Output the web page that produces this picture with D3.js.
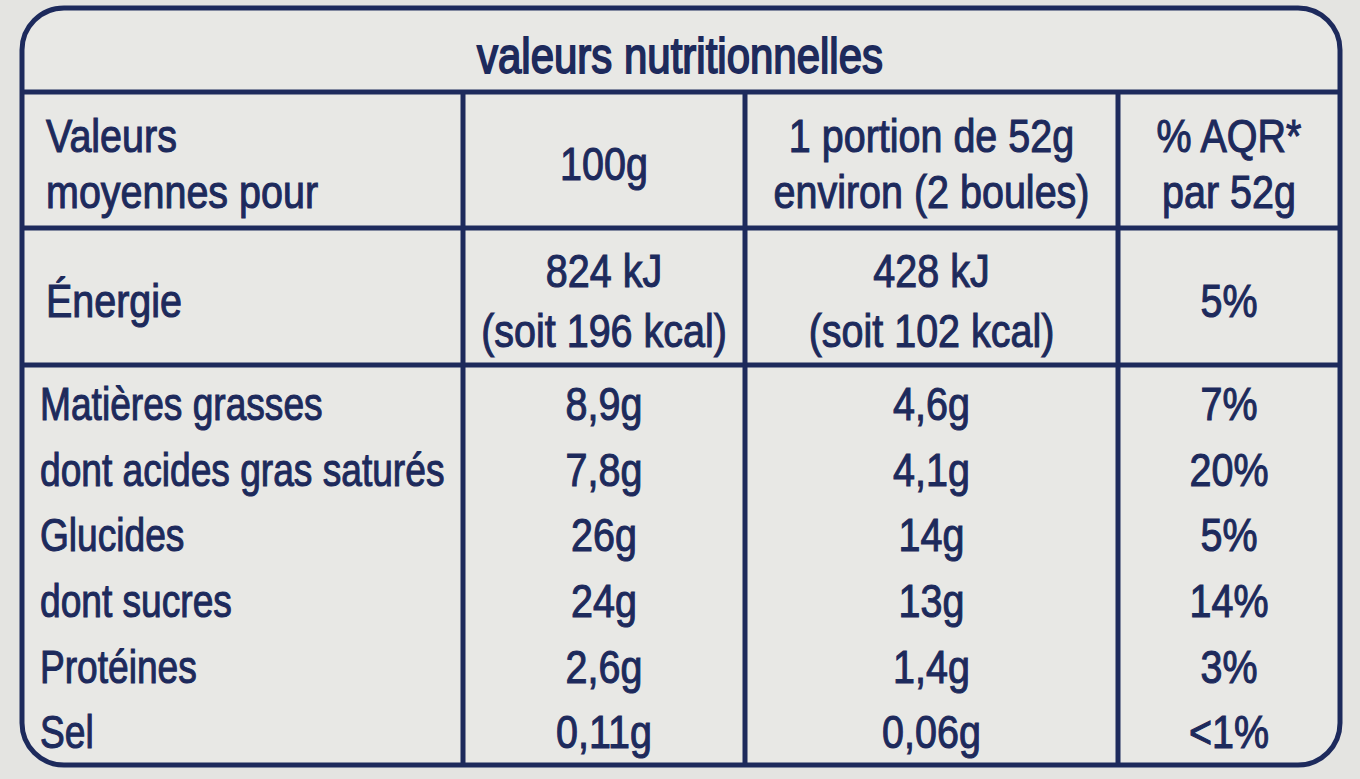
<!DOCTYPE html>
<html><head><meta charset="utf-8">
<script src="https://cdn.jsdelivr.net/npm/d3@7"></script>
<style>
body{margin:0;background:#e4e4e1;}
svg{display:block;}
text{font-family:"Liberation Sans","Arial",sans-serif;fill:#1d2a5c;}
</style></head>
<body><svg></svg>
<script>
const title = 'valeurs nutritionnelles';
const headers = [['Valeurs', 'moyennes pour'], ['100g'], ['1 portion de 52g', 'environ (2 boules)'], ['% AQR*', 'par 52g']];
const energy = [['Énergie'], ['824 kJ', '(soit 196 kcal)'], ['428 kJ', '(soit 102 kcal)'], ['5%']];
const nutrients = ['Matières grasses', 'dont acides gras saturés', 'Glucides', 'dont sucres', 'Protéines', 'Sel'];
const per100 = ['8,9g', '7,8g', '26g', '24g', '2,6g', '0,11g'];
const perPortion = ['4,6g', '4,1g', '14g', '13g', '1,4g', '0,06g'];
const aqr = ['7%', '20%', '5%', '14%', '3%', '<1%'];

const width = 1360, height = 779;
const svg = d3.select('svg').attr('width', width).attr('height', height);
const ink = '#1d2a5c';

const colEdges = [22, 463, 745, 1118, 1340];
const rowEdges = [8, 92, 228, 365, 765];
const colCenter = i => (colEdges[i] + colEdges[i + 1]) / 2;

svg.append('rect').attr('x', 22).attr('y', 8).attr('width', 1318).attr('height', 757)
	.attr('rx', 42).attr('fill', '#e8e8e5').attr('stroke', ink).attr('stroke-width', 5);

svg.selectAll('line.h').data(rowEdges.slice(1, 4)).enter().append('line')
	.attr('x1', 22).attr('x2', 1340).attr('y1', d => d).attr('y2', d => d)
	.attr('stroke', ink).attr('stroke-width', 5);
svg.selectAll('line.v').data(colEdges.slice(1, 4)).enter().append('line')
	.attr('x1', d => d).attr('x2', d => d).attr('y1', 92).attr('y2', 765)
	.attr('stroke', ink).attr('stroke-width', 5);

function put(x, y, t, anchor, size, sw, sq) {
	svg.append('text')
		.attr('transform', `translate(${x},${y}) scale(${sq || 0.84},1)`)
		.attr('text-anchor', anchor).attr('font-size', size)
		.attr('stroke', ink).attr('stroke-width', sw || 1.1)
		.text(t);
}

put(680, 73, title, 'middle', 50, 1.8);

function cell(lines, col, yMid, size, gap) {
	const left = col == 0;
	const y0 = yMid - (lines.length - 1) * gap / 2 + size * 0.36;
	lines.forEach((t, i) => put(left ? 46 : colCenter(col), y0 + i * gap, t, left ? 'start' : 'middle', size));
}

headers.forEach((h, i) => cell(h, i, 163, 47, 56));
energy.forEach((h, i) => cell(h, i, 300, 47, 60));

const y = d3.scaleBand().domain(nutrients).range([370, 764]);
const cols = [nutrients, per100, perPortion, aqr];
cols.forEach((arr, c) => {
	nutrients.forEach((d, i) => {
		put(c == 0 ? 40 : colCenter(c), y(d) + y.bandwidth() / 2 + 17, arr[i],
			c == 0 ? 'start' : 'middle', 47, 1.1, c == 0 ? 0.79 : 0.84);
	});
});
</script></body></html>
